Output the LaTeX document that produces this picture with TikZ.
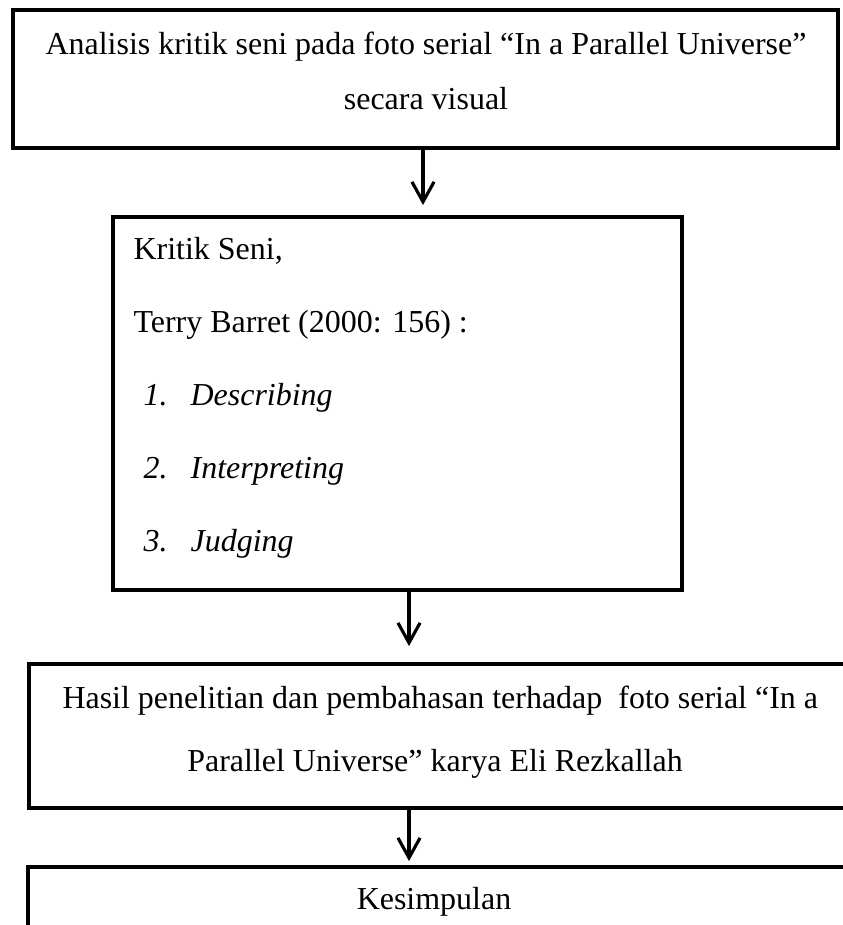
\documentclass[tikz,border=0pt]{standalone}
\usepackage{fontspec}
\setmainfont{Liberation Serif}
\usetikzlibrary{arrows.meta, positioning}
\newcommand{\pxu}{0.38pt}

\begin{document}
\begin{tikzpicture}[x=\pxu, y=-\pxu, >={Straight Barb[length=7.6pt, width=8.4pt]},
  box/.style={draw, line width=1.45pt, inner sep=0pt},
  flow/.style={->, line width=1.2pt},
  boxtext/.style={inner sep=0pt, align=center},
  font=\fontsize{12.15}{14}\selectfont]
  \useasboundingbox (0,0) rectangle (842,925);

  % step 1
  \node[box, minimum width={825*\pxu}, minimum height={138*\pxu}] (analisis) at (425.5,79) {};
  \node[boxtext, anchor=north, font=\fontsize{12.15}{20.9}\selectfont] (analisisText) at (426,31.2)
    {Analisis kritik seni pada foto serial “In a Parallel Universe”\\secara visual};

  % step 2
  \node[box, minimum width={569*\pxu}, minimum height={373*\pxu}] (kritik) at (397.5,403.5) {};
  \node[boxtext, anchor=north west, align=left, font=\fontsize{12.15}{27.7}\selectfont] (kritikText) at (133,237.2)
    {Kritik Seni,\\
     Terry Barret (2000: 156) :\\
     \hspace*{3.8pt}\makebox[17.9pt][l]{\textit{1.}}\textit{Describing}\\
     \hspace*{3.8pt}\makebox[17.9pt][l]{\textit{2.}}\textit{Interpreting}\\
     \hspace*{3.8pt}\makebox[17.9pt][l]{\textit{3.}}\textit{Judging}};

  % step 3
  \node[box, minimum width={821*\pxu}, minimum height={144*\pxu}] (hasil) at (439.5,736) {};
  \node[boxtext, anchor=north, font=\fontsize{12.15}{24}\selectfont] (hasilText) at (435,685.2)
    {\hspace*{4pt}Hasil penelitian dan pembahasan terhadap \ foto serial “In a\\Parallel Universe” karya Eli Rezkallah};

  % step 4
  \node[box, minimum width={822*\pxu}, minimum height={100*\pxu}] (kesimpulan) at (439,917) {};
  \node[inner sep=0pt, anchor=base] (kesimpulanText) at (434,909) {Kesimpulan};

  \draw[flow, shorten >={10*\pxu}] ([xshift={-2.5*\pxu}]analisis.south) -- ([xshift={-2.5*\pxu}]analisis.south |- kritik.north);
  \draw[flow, shorten >={16*\pxu}] ([xshift={11.5*\pxu}]kritik.south) -- ([xshift={11.5*\pxu}]kritik.south |- hasil.north);
  \draw[flow, shorten >={4*\pxu}] ([xshift={-30.5*\pxu}]hasil.south) -- ([xshift={-30.5*\pxu}]hasil.south |- kesimpulan.north);
\end{tikzpicture}
\end{document}
